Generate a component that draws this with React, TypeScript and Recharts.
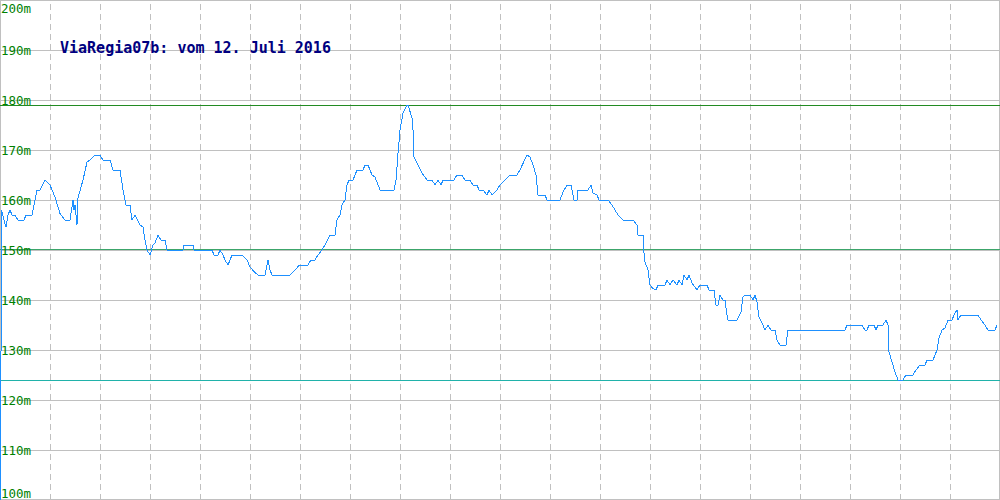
import { LineChart, Line, XAxis, YAxis, ReferenceLine } from 'recharts';

// horizontal position along the track (chart units 0..1000) and elevation in metres
const DIST = [
  0.5, 1.5, 4, 6, 8, 10, 12, 15, 18, 24, 26, 32, 35, 37, 40, 45, 50, 55, 60, 65,
  70, 73, 74, 75, 77, 78, 83, 87, 90, 95, 100, 103, 110, 113, 120, 123, 126, 130, 132, 135,
  140, 143, 145, 147, 150, 153, 155, 158, 161, 165, 167, 183, 184, 193, 194, 212, 214, 218, 220, 223,
  225, 228, 232, 242, 247, 250, 255, 258, 265, 268, 270, 272, 290, 297, 299, 308, 311, 315, 318, 322,
  325, 330, 335, 337, 340, 342, 345, 347, 349, 353, 357, 363, 365, 368, 372, 375, 380, 394, 396, 398,
  400, 403, 407, 408, 412, 413, 414, 418, 422, 427, 432, 435, 438, 441, 443, 454, 457, 462, 465, 470,
  473, 477, 479, 483, 487, 489, 492, 497, 500, 505, 510, 517, 520, 523, 527, 530, 533, 536, 538, 545,
  547, 560, 563, 567, 571, 574, 577, 578, 588, 591, 593, 597, 599, 608, 612, 615, 618, 623, 633, 637,
  638, 643, 644, 645, 648, 650, 653, 656, 658, 665, 667, 670, 673, 677, 679, 682, 684, 687, 689, 692,
  697, 700, 707, 709, 714, 716, 718, 720, 723, 725, 727, 728, 737, 741, 743, 745, 750, 753, 755, 757,
  759, 762, 765, 768, 771, 775, 777, 780, 786, 788, 845, 847, 862, 865, 867, 869, 874, 876, 878, 883,
  886, 888, 889, 892, 895, 898, 903, 906, 913, 916, 920, 925, 927, 933, 935, 937, 939, 942, 945, 948,
  952, 954, 957, 958, 961, 978, 981, 985, 988, 995, 997,
];

const ELEV = [
  100, 158, 156, 154.6, 157, 158, 157, 157, 156, 156, 157, 157, 160, 162, 162, 164, 163, 160.6, 157.3, 156,
  156, 160, 158, 159, 155, 160.4, 164, 167.6, 168, 169, 169, 168, 168, 166, 166, 162, 159, 159, 156, 157,
  155, 154.6, 152, 150, 149, 151, 151.4, 153, 152, 152, 150, 150, 151, 151, 150, 150, 149, 149, 150, 149,
  148, 147, 149, 149, 148, 146.6, 145.5, 145, 145, 148, 146, 145, 145, 146.4, 147, 147, 148, 148, 149, 150,
  151, 153, 153, 156, 157, 159, 160, 163, 164, 164, 166, 166, 167, 167, 165, 164.6, 162, 162, 164, 169.3,
  174, 177.4, 179, 179, 176.4, 174, 168.6, 167, 165.4, 164, 164, 163, 164, 163, 164, 164, 165, 165, 164, 164,
  163, 163, 162, 162, 161, 162, 161, 162, 163, 164, 165, 165, 166, 167.3, 169, 168.6, 167, 165, 161, 161,
  160, 160, 161.6, 163, 163, 160, 160, 162, 162, 163, 161.4, 161, 160, 160, 159, 158, 157, 156, 156, 155,
  153, 153, 149.4, 147.6, 146, 143, 142.3, 142, 143, 143, 144, 143, 144, 143, 144, 143, 145, 144, 145, 143.4,
  142, 143, 143, 142, 142, 139, 139, 141, 140, 140, 137, 136, 136, 137.6, 140.6, 141, 141, 140, 141, 139.6,
  136.6, 135.4, 134, 135, 134, 134, 132, 131, 131, 134, 134, 135, 135, 134, 134, 135, 135, 134, 135, 135,
  136, 135, 129.6, 127.6, 125.6, 124, 124, 125, 125, 126, 127, 127, 128, 128, 129, 130, 132.4, 134, 134.4, 136,
  136, 137, 138, 136, 137, 137, 136, 135, 134, 134, 135,
];

const Y_TICKS = [100, 110, 120, 130, 140, 150, 160, 170, 180, 190, 200];
const X_GRID = [50, 100, 150, 200, 250, 300, 350, 400, 450, 500, 550, 600, 650, 700, 750, 800, 850, 900, 950];
const TITLE = 'ViaRegia07b: vom 12. Juli 2016';

const data = DIST.map((d, i) => ({ d, h: ELEV[i] }));

const W = 1000;
const H = 500;

const ElevTick = ({ y, payload }: any) => {
  let base = y + 4.5;
  if (payload.value === 200) base = 13;
  if (payload.value === 100) base = 498;
  return (
    <text x={1} y={base} fill="#008000" fontSize={12.5} fontFamily="'DejaVu Sans Mono', monospace">
      {payload.value}m
    </text>
  );
};

export default function App() {
  return (
    <div style={{ position: 'absolute', left: 0, top: 0, width: W, height: H, background: '#fff' }}>
      {/* frame sits under the chart so the track line can cover it */}
      <div
        style={{
          position: 'absolute', left: 0, top: 0, width: W, height: H,
          boxSizing: 'border-box', border: '1px solid #c0c0c0',
        }}
      />
      <LineChart width={W} height={H} data={data} margin={{ top: 0, right: 0, bottom: 0, left: 0 }}>
        <XAxis dataKey="d" type="number" domain={[0, 1000]} hide />
        <YAxis
          type="number"
          domain={[100, 200]}
          ticks={Y_TICKS}
          mirror
          axisLine={false}
          tickLine={false}
          tick={<ElevTick />}
          interval={0}
        />
        {Y_TICKS.map((v) => (
          <ReferenceLine key={'h' + v} y={v} stroke="#c0c0c0" shapeRendering="crispEdges" />
        ))}
        {X_GRID.map((v) => (
          <ReferenceLine key={'v' + v} x={v} stroke="#c0c0c0" strokeDasharray="6 4" shapeRendering="crispEdges" />
        ))}
        <ReferenceLine y={179} stroke="#228b22" shapeRendering="crispEdges" />
        <ReferenceLine y={150.1} stroke="#3ca56a" shapeRendering="crispEdges" />
        <ReferenceLine y={124} stroke="#20b2aa" shapeRendering="crispEdges" />
        <Line
          type="linear"
          dataKey="h"
          stroke="#1e90ff"
          strokeWidth={1}
          dot={false}
          activeDot={false}
          isAnimationActive={false}
          shapeRendering="crispEdges"
        />
      </LineChart>
      <svg width={W} height={H} style={{ position: 'absolute', left: 0, top: 0, pointerEvents: 'none' }}>
        <text x={60} y={53} fill="#000080" fontSize={15} fontWeight="bold" fontFamily="'DejaVu Sans Mono', monospace">
          {TITLE}
        </text>
      </svg>
    </div>
  );
}
